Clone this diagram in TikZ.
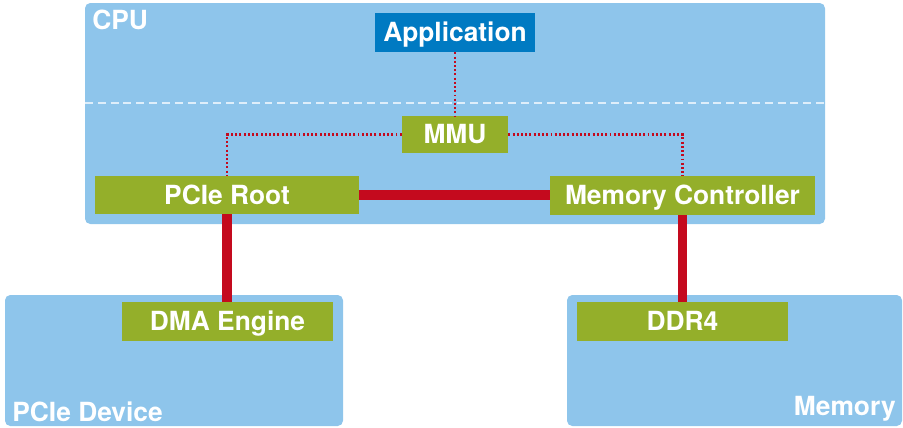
\documentclass[tikz,border=0pt]{standalone}
\usepackage{fontspec}
\newfontfamily\herosfont{TeX Gyre Heros}

\definecolor{boxblue}{RGB}{142,197,235}
\definecolor{appblue}{RGB}{0,122,194}
\definecolor{unitgreen}{RGB}{148,175,42}
\definecolor{busred}{RGB}{196,10,30}
\definecolor{sepwhite}{RGB}{222,238,250}

\begin{document}
\begin{tikzpicture}[x=0.02cm, y=-0.02cm,
  % one unit is one pixel of the original drawing
  lbl/.style={text=white, inner sep=0pt, font=\herosfont\bfseries\fontsize{15}{18}\selectfont},
  area/.style 2 args={fill=boxblue, draw=none, rounded corners=3pt, inner sep=0pt,
    minimum width=#1*0.02cm, minimum height=#2*0.02cm},
  unit/.style 2 args={lbl, fill=unitgreen, text height=10.8pt, text depth=0pt,
    minimum width=#1*0.02cm, minimum height=#2*0.02cm},
  bus/.style={busred, line width=5.6pt},
  mapping/.style={busred, line width=1.3pt, dash pattern=on 1.1pt off 1.3pt}]

\useasboundingbox (0,0) rectangle (903,427);

% the three outer blocks
\node[area={740}{221}] (cpu) at (455,113.5) {};
\node[area={338}{131}] (dev) at (174,360.5) {};
\node[area={335}{131}] (mem) at (734.5,360.5) {};

\node[lbl, anchor=base west] (cpulbl) at (92,29) {CPU};
\node[lbl, anchor=base west] (devlbl) at (12,421) {PCIe Device};
\node[lbl, anchor=base east] (memlbl) at (896,415) {Memory};

% user space / kernel space separation
\coordinate (sepL) at (85,103);
\coordinate (sepR) at (825,103);
\draw[sepwhite, line width=0.8pt, dash pattern=on 4.5pt off 2.8pt] (sepL) -- (sepR);

% inner units
\node[unit={160}{39}, fill=appblue] (app) at (455,32.5) {Application};
\node[unit={106}{37}] (mmu) at (455,134.5) {MMU};
\node[unit={264}{38}] (pcie) at (227,195) {PCIe Root};
\node[unit={265}{39}] (mc) at (682.5,195.5) {Memory Controller};
\node[unit={211}{39}] (dma) at (227.5,321.5) {DMA Engine};
\node[unit={211}{39}] (ddr) at (682.5,321.5) {DDR4};

% address mappings
\draw[mapping] (app.south) -- (mmu.north);
\draw[mapping] (mmu.west) -| (pcie.north);
\draw[mapping] (mmu.east) -| (mc.north);

% physical links
\draw[bus] (pcie.east) -- (pcie.east -| mc.west);
\draw[bus] (pcie.south) -- (pcie.south |- dma.north);
\draw[bus] (mc.south) -- (mc.south |- ddr.north);
\end{tikzpicture}
\end{document}
